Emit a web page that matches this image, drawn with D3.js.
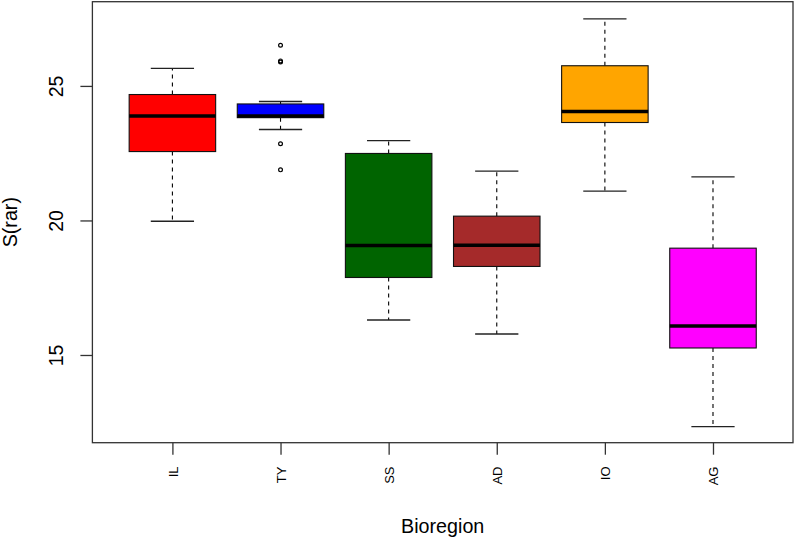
<!DOCTYPE html>
<html>
<head>
<meta charset="utf-8">
<script src="https://cdn.jsdelivr.net/npm/d3@7"></script>
<style>
  html, body { margin: 0; padding: 0; background: #fff; }
  text { font-family: "Liberation Sans", Arial, Helvetica, sans-serif; fill: #000; }
</style>
</head>
<body>
<svg id="chart" width="794" height="541"></svg>
<script>
// ---- data ----
const categories = ["IL", "TY", "SS", "AD", "IO", "AG"];
const colors     = ["#FF0000", "#0000FF", "#006400", "#A52A2A", "#FFA500", "#FF00FF"];
const whiskerLow = [19.97, 23.38, 16.30, 15.78, 21.09, 12.34];
const q1         = [22.56, 23.82, 17.88, 18.29, 23.64, 15.26];
const median     = [23.88, 23.88, 19.07, 19.08, 24.05, 16.08];
const q3         = [24.68, 24.33, 22.49, 20.16, 25.75, 18.97];
const whiskerHigh= [25.65, 24.42, 22.97, 21.83, 27.49, 21.62];
const outlierCat = ["TY", "TY", "TY", "TY", "TY"];
const outlierVal = [26.51, 25.93, 25.89, 22.85, 21.88];
const yTicks     = [15, 20, 25];
const xTitle = "Bioregion";
const yTitle = "S(rar)";

// ---- layout ----
const svg = d3.select("#chart");
const plot = { left: 92.4, right: 793, top: 1.7, bottom: 442.7 };

const x = d3.scaleLinear().domain([0.26, categories.length + 0.74]).range([plot.left, plot.right]);
const y = d3.scaleLinear().domain([11.74, 28.13]).range([plot.bottom, plot.top]);
const boxW = x(0.8) - x(0);      // boxwex 0.8
const capW = boxW / 2;           // staplewex 0.5
const idx = c => categories.indexOf(c) + 1;

const boxes = categories.map((c, i) => ({
  cat: c, i: i + 1, color: colors[i],
  lo: whiskerLow[i], q1: q1[i], med: median[i], q3: q3[i], hi: whiskerHigh[i]
}));

const g = svg.append("g");

// whiskers (dashed)
g.selectAll(".wlo").data(boxes).enter().append("line")
  .attr("x1", d => x(d.i)).attr("x2", d => x(d.i))
  .attr("y1", d => y(d.q1)).attr("y2", d => y(d.lo))
  .attr("stroke", "#000").attr("stroke-width", 1.1).attr("stroke-dasharray", "4,4");
g.selectAll(".whi").data(boxes).enter().append("line")
  .attr("x1", d => x(d.i)).attr("x2", d => x(d.i))
  .attr("y1", d => y(d.q3)).attr("y2", d => y(d.hi))
  .attr("stroke", "#000").attr("stroke-width", 1.1).attr("stroke-dasharray", "4,4");

// staples
g.selectAll(".caplo").data(boxes).enter().append("line")
  .attr("x1", d => x(d.i) - capW / 2).attr("x2", d => x(d.i) + capW / 2)
  .attr("y1", d => y(d.lo)).attr("y2", d => y(d.lo))
  .attr("stroke", "#222").attr("stroke-width", 1.3);
g.selectAll(".caphi").data(boxes).enter().append("line")
  .attr("x1", d => x(d.i) - capW / 2).attr("x2", d => x(d.i) + capW / 2)
  .attr("y1", d => y(d.hi)).attr("y2", d => y(d.hi))
  .attr("stroke", "#222").attr("stroke-width", 1.3);

// boxes
g.selectAll(".box").data(boxes).enter().append("rect")
  .attr("x", d => x(d.i) - boxW / 2).attr("width", boxW)
  .attr("y", d => y(d.q3)).attr("height", d => y(d.q1) - y(d.q3))
  .attr("fill", d => d.color).attr("stroke", "#111").attr("stroke-width", 1.1);

// medians
g.selectAll(".med").data(boxes).enter().append("line")
  .attr("x1", d => x(d.i) - boxW / 2).attr("x2", d => x(d.i) + boxW / 2)
  .attr("y1", d => y(d.med)).attr("y2", d => y(d.med))
  .attr("stroke", "#000").attr("stroke-width", 3.5);

// outliers
const outliers = outlierCat.map((c, k) => ({ i: idx(c), v: outlierVal[k] }));
g.selectAll(".out").data(outliers).enter().append("circle")
  .attr("cx", d => x(d.i)).attr("cy", d => y(d.v)).attr("r", 1.9)
  .attr("fill", "none").attr("stroke", "#000").attr("stroke-width", 1.2);

// frame
svg.append("rect")
  .attr("x", plot.left).attr("y", plot.top)
  .attr("width", plot.right - plot.left).attr("height", plot.bottom - plot.top)
  .attr("fill", "none").attr("stroke", "#333").attr("stroke-width", 1.3);

// y axis
const yAxis = svg.append("g").attr("transform", `translate(${plot.left},0)`)
  .call(d3.axisLeft(y).tickValues(yTicks).tickSize(12).tickFormat(d3.format("d")));
yAxis.select(".domain").remove();
yAxis.selectAll(".tick line").attr("stroke", "#333").attr("stroke-width", 1.3);
yAxis.selectAll(".tick text")
  .attr("x", null).attr("dy", null)
  .attr("transform", `translate(${63 - plot.left},0) rotate(-90)`)
  .attr("text-anchor", "middle")
  .style("font-size", "19.5px").style("font-family", "'Liberation Sans', Arial, sans-serif")
  .attr("fill", "#000");

// x axis
const xAxis = svg.append("g").attr("transform", `translate(0,${plot.bottom})`)
  .call(d3.axisBottom(x).tickValues(d3.range(1, categories.length + 1)).tickSize(12)
    .tickFormat(d => categories[d - 1]));
xAxis.select(".domain").remove();
xAxis.selectAll(".tick line").attr("stroke", "#333").attr("stroke-width", 1.3);
xAxis.selectAll(".tick text")
  .attr("x", null).attr("y", null).attr("dy", null)
  .attr("transform", `translate(4.6,${466.5 - plot.bottom}) rotate(-90)`)
  .attr("text-anchor", "end")
  .style("font-size", "13px").style("font-family", "'Liberation Sans', Arial, sans-serif")
  .attr("fill", "#000");

// titles
svg.append("text")
  .attr("x", (plot.left + plot.right) / 2).attr("y", 533)
  .attr("text-anchor", "middle").style("font-size", "19.7px")
  .text(xTitle);
svg.append("text")
  .attr("transform", `translate(16.5,${(plot.top + plot.bottom) / 2}) rotate(-90)`)
  .attr("text-anchor", "middle").style("font-size", "19.7px")
  .text(yTitle);
</script>
</body>
</html>
